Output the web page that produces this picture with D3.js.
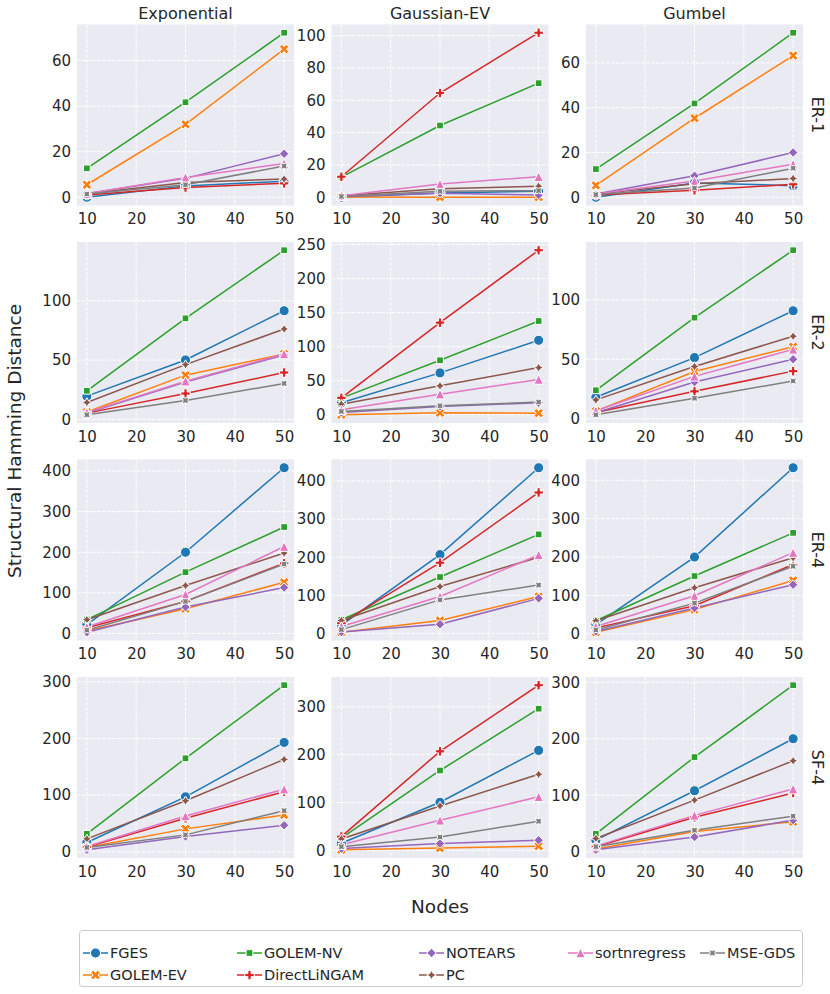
<!DOCTYPE html>
<html><head><meta charset="utf-8">
<script src="https://cdn.jsdelivr.net/npm/d3@7"></script>
<style>
body{margin:0;background:#fff}
text{font-family:"DejaVu Sans",sans-serif;fill:#262626}
</style>
</head><body>
<svg id="chart" width="830" height="994"></svg>
<script>
// ---------------- DATA ----------------
const nodes = [10, 30, 50];
const xTicks = [10, 20, 30, 40, 50];
const noiseTypes = ["Exponential", "Gaussian-EV", "Gumbel"];
const graphTypes = ["ER-1", "ER-2", "ER-4", "SF-4"];
const methods = ["FGES", "GOLEM-EV", "GOLEM-NV", "DirectLiNGAM", "NOTEARS", "PC", "sortnregress", "MSE-GDS"];

// values per method (order as in `methods`), at nodes 10, 30, 50
const ER1_Exponential = [[0, 5, 7], [5.5, 32, 65], [12.7, 41.7, 72.2], [1, 4.3, 6.1], [1.7, 8.3, 19.1], [1.5, 6.5, 8], [1.5, 8.7, 14.8], [1.4, 5.5, 13.7]];
const ER1_GaussianEV = [[0, 2.7, 3.7], [0.2, 0, 0], [12.5, 44.4, 70.6], [12.7, 64.5, 101.8], [0.5, 2.5, 1.4], [1, 5.3, 6.8], [1, 8.2, 12.7], [0.5, 3.7, 4.1]];
const ER1_Gumbel = [[0, 6.4, 5.2], [5.3, 35.3, 63.3], [12.6, 41.9, 73.5], [1, 3.1, 5.8], [1.5, 9.6, 20], [1.5, 6, 8.4], [1.5, 7.3, 14.8], [1.2, 4.1, 13]];

const ER2_Exponential = [[19.6, 50.1, 91.6], [6.2, 37.3, 55.2], [24.1, 85.2, 142.6], [5.3, 21.8, 39.5], [5.3, 31.4, 54.3], [14.3, 46.2, 76.2], [5.9, 32.2, 55.2], [3.9, 16, 30.3]];
const ER2_GaussianEV = [[17.6, 61.5, 109.4], [0, 2.9, 2.4], [24.4, 80, 137.7], [24.9, 135.3, 241.7], [3.4, 12.2, 17.6], [15.6, 42.5, 69.3], [7.3, 30.3, 51.8], [4.9, 13.2, 18.6]];
const ER2_Gumbel = [[18, 51.4, 90.8], [6.4, 39.7, 60.6], [23.9, 85, 141.7], [5.3, 23, 40], [5, 30.8, 50], [15.8, 43.9, 69.4], [6.7, 35.6, 58.3], [3.3, 17.2, 31.7]];

const ER4_Exponential = [[22, 200, 408], [6, 61, 126], [34.3, 151, 262], [14, 79, 173], [3, 65, 113], [34, 118, 198], [16, 96, 214], [8.2, 79, 171]];
const ER4_GaussianEV = [[22, 207, 435], [3, 34, 97], [36, 148, 260], [27, 185.6, 370], [3.5, 24, 92], [34, 123, 200], [18, 97, 206], [10, 88, 127]];
const ER4_Gumbel = [[24, 200, 432.7], [4, 63, 139], [34, 150.5, 263], [15.5, 73, 180.6], [6, 67, 128], [34, 120, 198], [19, 99, 211.6], [10, 80, 176]];

const SF4_Exponential = [[16.4, 97, 193], [7.6, 40.4, 65], [31.6, 165, 294], [8.2, 59, 106], [3.5, 27, 46.8], [22.8, 90, 163], [9.4, 63, 110.5], [7.6, 29.8, 72.5]];
const SF4_GaussianEV = [[15, 100.7, 209], [1.5, 5, 9], [26, 167, 296], [29, 207, 345], [4, 14.6, 21.5], [24, 93, 159], [12, 63, 112], [8, 28, 61]];
const SF4_Gumbel = [[20.5, 108, 200], [5, 36, 53], [31.6, 167.5, 294.7], [9, 61, 104], [3.5, 26, 56], [23.4, 91.4, 161], [10, 64.4, 111], [9, 38, 63]];

const yTicks_ER1 = [[0, 20, 40, 60], [0, 20, 40, 60, 80, 100], [0, 20, 40, 60]];
const yTicks_ER2 = [[0, 50, 100], [0, 50, 100, 150, 200, 250], [0, 50, 100]];
const yTicks_ER4 = [[0, 100, 200, 300, 400], [0, 100, 200, 300, 400], [0, 100, 200, 300, 400]];
const yTicks_SF4 = [[0, 100, 200, 300], [0, 100, 200, 300], [0, 100, 200, 300]];

const panelData = [
  [ER1_Exponential, ER1_GaussianEV, ER1_Gumbel],
  [ER2_Exponential, ER2_GaussianEV, ER2_Gumbel],
  [ER4_Exponential, ER4_GaussianEV, ER4_Gumbel],
  [SF4_Exponential, SF4_GaussianEV, SF4_Gumbel]
];
const panelTicks = [yTicks_ER1, yTicks_ER2, yTicks_ER4, yTicks_SF4];

// ---------------- STYLE ----------------
const colors = ["#1f77b4", "#ff7f0e", "#2ca02c", "#d62728", "#9467bd", "#8c564b", "#e377c2", "#7f7f7f"];
const markers = ["circle", "x", "square", "plus", "diamond", "star", "triangle", "starx"];

const W = 217, H = 181;
const colLeft = [77, 331.5, 586];
const rowTop = [24.5, 242, 459.5, 677];
const MS = 9.5;
const TICK_FS = "15px", TITLE_FS = "16px", LABEL_FS = "18.5px", LEG_FS = "14.5px";

const svg = d3.select("#chart");

function poly(pts) { return "M" + pts.map(p => p[0].toFixed(2) + "," + p[1].toFixed(2)).join("L") + "Z"; }
function markerPath(type, ms) {
  const r = ms / 2;
  switch (type) {
    case "x": {
      const b = [[-1, -2], [0, -1], [1, -2], [2, -1], [1, 0], [2, 1], [1, 2], [0, 1], [-1, 2], [-2, 1], [-1, 0], [-2, -1]];
      return poly(b.map(p => [p[0] / 4 * ms, p[1] / 4 * ms]));
    }
    case "plus": {
      const b = [[-1, -3], [1, -3], [1, -1], [3, -1], [3, 1], [1, 1], [1, 3], [-1, 3], [-1, 1], [-3, 1], [-3, -1], [-1, -1]];
      return poly(b.map(p => [p[0] / 6 * ms, p[1] / 6 * ms]));
    }
    case "square": {
      const s = r / Math.SQRT2;
      return poly([[-s, -s], [s, -s], [s, s], [-s, s]]);
    }
    case "diamond":
      return poly([[0, -r], [r, 0], [0, r], [-r, 0]]);
    case "triangle":
      return poly([[0, -r], [r, r], [-r, r]]);
    case "star":
    case "starx": {
      const off = type === "star" ? 0 : Math.PI / 4;
      const pts = [];
      for (let i = 0; i < 8; i++) {
        const a = off + i * Math.PI / 4;
        const rr = i % 2 === 0 ? r : r * 0.5;
        pts.push([rr * Math.sin(a), -rr * Math.cos(a)]);
      }
      return poly(pts);
    }
  }
}
function drawMarker(g, type, x, y, color) {
  if (type === "circle") {
    g.append("circle").attr("cx", x).attr("cy", y).attr("r", MS / 2 + 0.3)
      .attr("fill", color).attr("stroke", "#fff").attr("stroke-width", 1);
  } else {
    g.append("path").attr("d", markerPath(type, MS)).attr("transform", `translate(${x},${y})`)
      .attr("fill", color).attr("stroke", "#fff").attr("stroke-width", 1).attr("stroke-linejoin", "miter");
  }
}

panelData.forEach((rowData, ri) => {
  rowData.forEach((series, ci) => {
    const x0 = colLeft[ci], y0 = rowTop[ri];
    const g = svg.append("g").attr("transform", `translate(${x0},${y0})`);
    const all = series.flat();
    const mn = d3.min(all), mx = d3.max(all), pad = (mx - mn) * 0.05;
    const x = d3.scaleLinear().domain([8, 52]).range([0, W]);
    const y = d3.scaleLinear().domain([mn - pad, mx + pad]).range([H, 0]);

    g.append("rect").attr("width", W).attr("height", H).attr("fill", "#eaeaf2");
    // grid
    g.append("g").selectAll("line").data(xTicks).join("line")
      .attr("x1", d => x(d)).attr("x2", d => x(d)).attr("y1", 0).attr("y2", H)
      .attr("stroke", "#fff").attr("stroke-width", 1).attr("stroke-dasharray", "3.5,1.5");
    g.append("g").selectAll("line").data(panelTicks[ri][ci]).join("line")
      .attr("x1", 0).attr("x2", W).attr("y1", d => y(d)).attr("y2", d => y(d))
      .attr("stroke", "#fff").attr("stroke-width", 1).attr("stroke-dasharray", "3.5,1.5");

    // axes (labels only)
    const xa = g.append("g").attr("transform", `translate(0,${H})`)
      .call(d3.axisBottom(x).tickValues(xTicks).tickSize(0).tickPadding(8));
    xa.select(".domain").remove();
    xa.selectAll("text").style("font-size", TICK_FS).attr("fill", "#262626").style("font-family", "DejaVu Sans");
    const ya = g.append("g").call(d3.axisLeft(y).tickValues(panelTicks[ri][ci]).tickSize(0).tickPadding(6));
    ya.select(".domain").remove();
    ya.selectAll("text").style("font-size", TICK_FS).attr("fill", "#262626").style("font-family", "DejaVu Sans");

    const line = d3.line().x((d, i) => x(nodes[i])).y(d => y(d));
    series.forEach((vals, mi) => {
      g.append("path").attr("d", line(vals)).attr("fill", "none")
        .attr("stroke", colors[mi]).attr("stroke-width", 1.5);
    });
    series.forEach((vals, mi) => {
      vals.forEach((v, i) => drawMarker(g, markers[mi], x(nodes[i]), y(v), colors[mi]));
    });

    if (ri === 0) {
      g.append("text").attr("x", W / 2).attr("y", -6).attr("text-anchor", "middle")
        .style("font-size", TITLE_FS).text(noiseTypes[ci]);
    }
    if (ci === 2) {
      g.append("text").attr("transform", `translate(${W + 9},${H / 2}) rotate(90)`)
        .attr("text-anchor", "middle").style("font-size", TITLE_FS).text(graphTypes[ri]);
    }
  });
});

// axis labels
svg.append("text").attr("transform", "translate(21,441) rotate(-90)").attr("text-anchor", "middle")
  .style("font-size", LABEL_FS).text("Structural Hamming Distance");
svg.append("text").attr("x", 440).attr("y", 913).attr("text-anchor", "middle")
  .style("font-size", LABEL_FS).text("Nodes");

// legend
const lg = svg.append("g");
lg.append("rect").attr("x", 79.5).attr("y", 930.5).attr("width", 723).attr("height", 56).attr("rx", 3)
  .attr("fill", "#fff").attr("stroke", "#cccccc").attr("stroke-width", 1);
const legCols = [83, 237, 419, 568, 700];
const legRows = [953, 975];
const legPos = [[0, 0], [0, 1], [1, 0], [1, 1], [2, 0], [2, 1], [3, 0], [4, 0]];
methods.forEach((m, mi) => {
  const lx = legCols[legPos[mi][0]], ly = legRows[legPos[mi][1]];
  lg.append("line").attr("x1", lx).attr("x2", lx + 25).attr("y1", ly).attr("y2", ly)
    .attr("stroke", colors[mi]).attr("stroke-width", 1.5);
  drawMarker(lg, markers[mi], lx + 12.5, ly, colors[mi]);
  lg.append("text").attr("x", lx + 27).attr("y", ly + 5).style("font-size", LEG_FS).text(m);
});
</script>
</body></html>
